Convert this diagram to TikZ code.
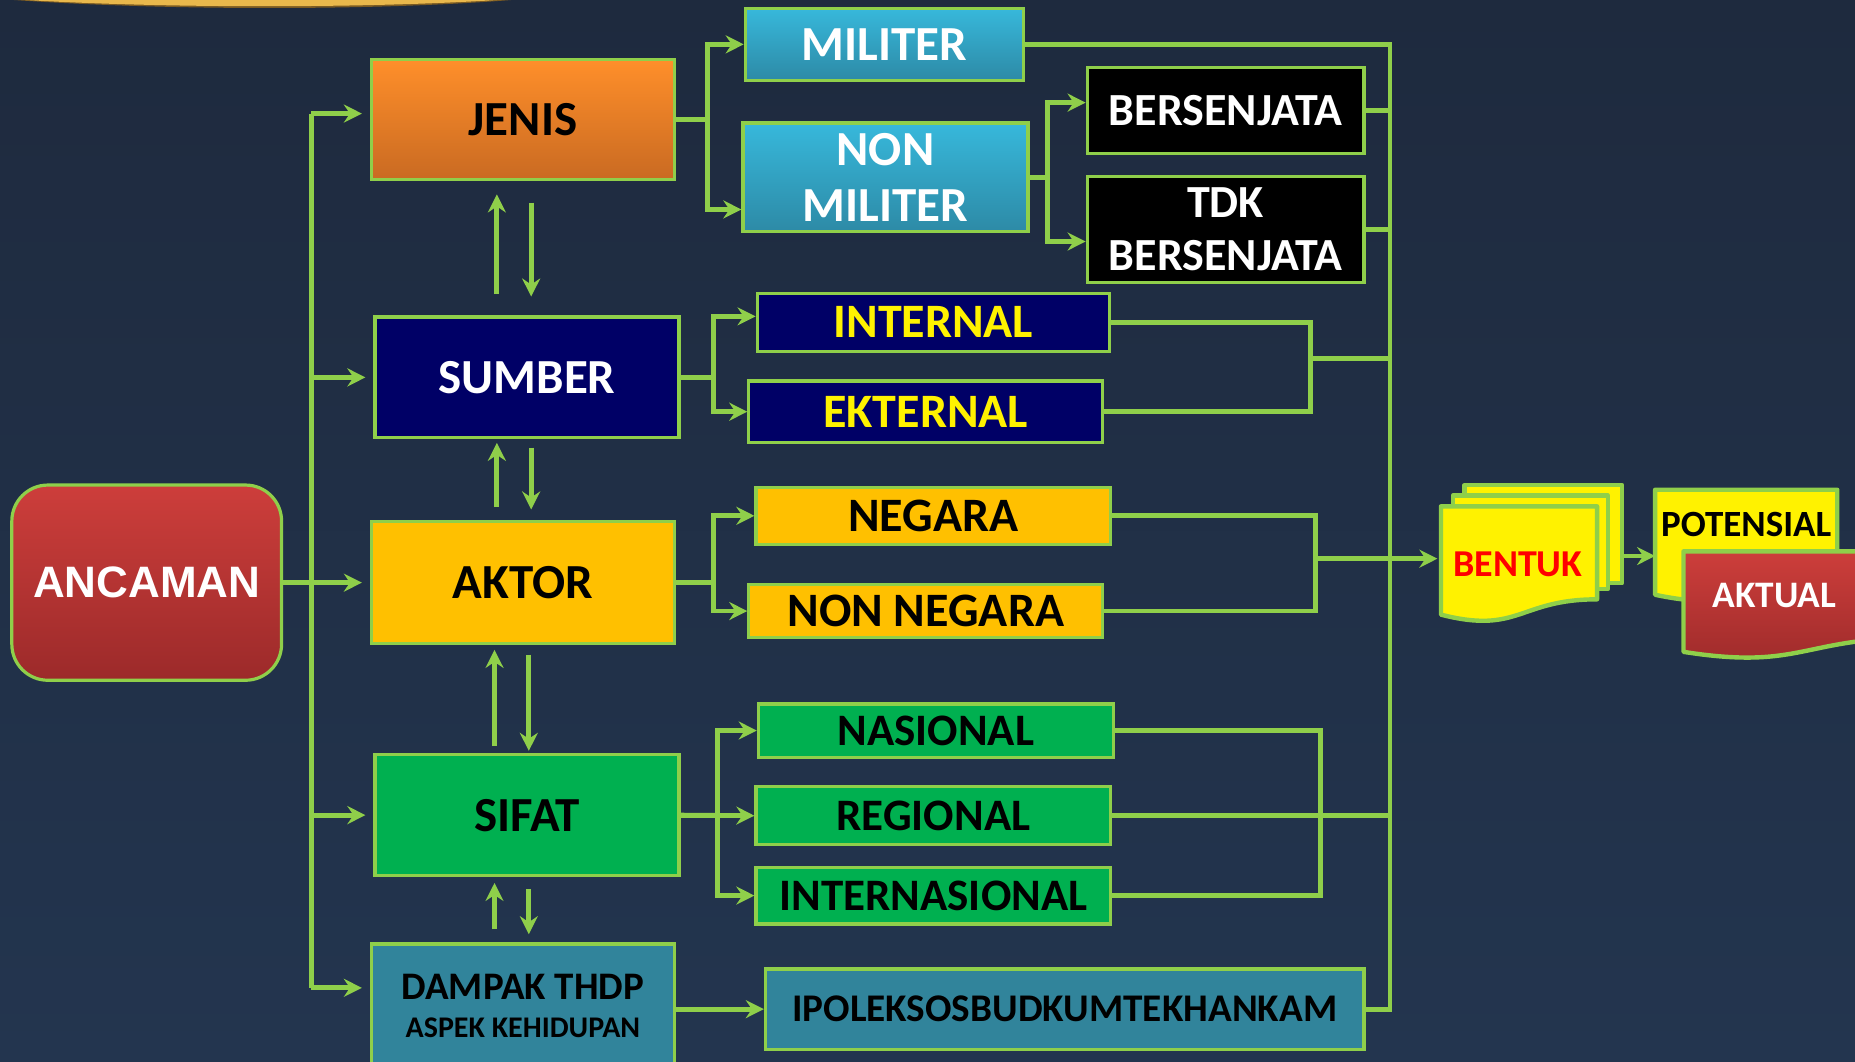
\documentclass[tikz,border=0pt]{standalone}
\usepackage{fontspec}
\setmainfont{Carlito}
\newfontfamily\arialfont{Liberation Sans}
\usetikzlibrary{arrows.meta,calc}

\definecolor{bgtop}{HTML}{1E2A3E}
\definecolor{bgbot}{HTML}{23354F}
\definecolor{lgreen}{HTML}{8FCF4A}
\definecolor{redtop}{HTML}{CD3E3B}
\definecolor{redbot}{HTML}{9C2A2A}
\definecolor{orgtop}{HTML}{FF8F2A}
\definecolor{orgbot}{HTML}{C96A22}
\definecolor{navybox}{HTML}{000066}
\definecolor{gold}{HTML}{FFC000}
\definecolor{greenbox}{HTML}{00B050}
\definecolor{tealbox}{HTML}{31849B}
\definecolor{cyantop}{HTML}{37B8DB}
\definecolor{cyanbot}{HTML}{2D8AA6}
\definecolor{arcgold}{HTML}{E9B84C}
\definecolor{arcedge}{HTML}{7A5A22}

\def\unitpx{0.5915pt}
% document shape: left x, top y, right x, height
\newcommand\docpath[4]{(#1,#2) -- (#3,#2) -- (#3,{#2+0.802*#4})
  .. controls ({(#1+#3)/2},{#2+0.802*#4}) and ({(#1+#3)/2},{#2+1.107*#4}) .. (#1,{#2+0.934*#4}) -- cycle}

\tikzset{
  line/.style={draw=lgreen, line width=2.4pt},
  arr/.style={line, -{Stealth[length=9pt,width=9pt,inset=3pt]}},
  box/.style={draw=lgreen, line width=1.6pt, inner sep=0pt, align=center},
  sz/.style 2 args={minimum width=#1*\unitpx, minimum height=#2*\unitpx},
  mainf/.style={font=\fontsize{24.5}{28}\selectfont\bfseries},
  subf/.style={font=\fontsize{24}{27}\selectfont\bfseries},
  bersf/.style={font=\fontsize{23}{26.5}\selectfont\bfseries},
  greenf/.style={font=\fontsize{22.5}{26}\selectfont\bfseries},
  docline/.style={draw=lgreen, line width=2.2pt, line join=round},
}

\begin{document}
\begin{tikzpicture}[x=\unitpx, y=-\unitpx]
\useasboundingbox (0,0) rectangle (1568,897);
\shade[top color=bgtop, bottom color=bgbot] (0,0) rectangle (1568,897);
\fill[arcedge] (12,0) .. controls (140,9) and (320,9) .. (432,0) -- cycle;
\fill[arcgold] (22,0) .. controls (140,7) and (310,7) .. (420,0) -- cycle;

% left column
\node[box, sz={228}{165}, rounded corners=18pt, top color=redtop, bottom color=redbot, text=white,
  font=\arialfont\fontsize{22}{26}\selectfont\bfseries] (ancaman) at (124,492.5) {ANCAMAN};
\node[box, sz={256}{102}, top color=orgtop, bottom color=orgbot, mainf] (jenis) at (442,101) {JENIS};
\node[box, sz={257}{102}, fill=navybox, text=white, mainf] (sumber) at (445.5,319) {SUMBER};
\node[box, sz={256}{103}, fill=gold, mainf] (aktor) at (442,492.5) {AKTOR};
\node[box, sz={257}{102}, fill=greenbox, mainf] (sifat) at (445.5,689) {SIFAT};
\node[box, sz={256}{104}, fill=tealbox, font=\fontsize{19.5}{20}\selectfont\bfseries] (dampak) at (442,850)
  {DAMPAK THDP\\[-1pt]{\fontsize{15}{16}\selectfont ASPEK KEHIDUPAN}};

% second column
\node[box, sz={235}{61}, top color=cyantop, bottom color=cyanbot, text=white, mainf] (militer) at (747.5,37.5) {MILITER};
\node[box, sz={241}{92}, top color=cyantop, bottom color=cyanbot, text=white, mainf] (nonmil) at (748.5,150) {NON\\MILITER};
\node[box, sz={234}{73}, fill=black, text=white, bersf] (bers) at (1036,93.5) {BERSENJATA};
\node[box, sz={234}{90}, fill=black, text=white, bersf] (tdk) at (1036,194) {TDK\\BERSENJATA};
\node[box, sz={298}{49}, fill=navybox, text=yellow, subf] (internal) at (789,272.5) {INTERNAL};
\node[box, sz={299}{52}, fill=navybox, text=yellow, subf] (eksternal) at (782.5,348) {EKTERNAL};
\node[box, sz={300}{48}, fill=gold, subf] (negara) at (789,436) {NEGARA};
\node[box, sz={299}{45}, fill=gold, subf] (nonneg) at (782.5,516.5) {NON NEGARA};
\node[box, sz={300}{45}, fill=greenbox, greenf] (nasional) at (791,617.5) {NASIONAL};
\node[box, sz={300}{49}, fill=greenbox, greenf] (regional) at (789,689.5) {REGIONAL};
\node[box, sz={300}{48}, fill=greenbox, greenf] (internas) at (789,757) {INTERNASIONAL};
\node[box, sz={506}{68}, fill=tealbox, font=\fontsize{19.6}{23}\selectfont\bfseries] (ipolek) at (900,853) {IPOLEKSOSBUDKUMTEKHANKAM};

% bentuk, potensial, aktual
\draw[docline, fill=yellow] (1238,410) rectangle (1371,493);
\draw[docline, fill=yellow] (1228,419) rectangle (1359,498);
\draw[docline, fill=yellow] \docpath{1218}{428}{1350}{98};
\node[text=red, font=\fontsize{19}{23}\selectfont\bfseries] (bentuk) at (1283,477) {BENTUK};
\draw[docline, fill=yellow] \docpath{1399}{414}{1553}{95};
\node[font=\fontsize{18.5}{21}\selectfont\bfseries] (potensial) at (1476,443) {POTENSIAL};
\draw[docline, top color=redtop, bottom color=redbot] \docpath{1423}{466}{1623}{91};
\node[text=white, font=\fontsize{18.7}{22}\selectfont\bfseries] (aktual) at (1500,503) {AKTUAL};

\coordinate (lb) at (263,0);
\coordinate (rb) at (1175,0);
\coordinate (m1) at (1108,0);
\coordinate (m2) at (1112,0);
\coordinate (m3) at (1116,0);
\coordinate (bentukw) at (1215,472);
\coordinate (bentuke) at (1371,470);
\coordinate (potw) at (1399,470);

% left bus
\draw[line] ($(lb |- jenis.west)+(0,-5)$) -- ($(lb |- dampak.west)+(0,-15)$);
\draw[arr, shorten >=4pt] ($(lb |- jenis.west)+(0,-5)$) -- ($(jenis.west)+(0,-5)$);
\draw[arr, shorten >=4pt] (lb |- sumber.west) -- (sumber.west);
\draw[arr, shorten >=4pt] (ancaman.east) -- (aktor.west);
\draw[arr, shorten >=4pt] (lb |- sifat.west) -- (sifat.west);
\draw[arr, shorten >=4pt] ($(lb |- dampak.west)+(0,-15)$) -- ($(dampak.west)+(0,-15)$);

% up and down between main boxes (x, gaps: up tail, up tip, down tail, down tip)
\foreach \a/\b/\ux/\ut/\up/\dt/\dp in {jenis/sumber/420/18/11/18/16, sumber/aktor/420/11/3/7/9,
    aktor/sifat/418/6/4/8/2, sifat/dampak/418/11/5/10/7}{
  \path (\ux,0) coordinate (ua) (\ux+29,0) coordinate (da);
  \draw[arr] ($(ua |- \b.north)+(0,-\ut)$) -- ($(ua |- \a.south)+(0,\up)$);
  \draw[arr] ($(da |- \a.south)+(0,\dt)$) -- ($(da |- \b.north)+(0,-\dp)$);
}

% branches
\draw[arr] (jenis.east) -- ++(27,0) |- (militer.west);
\draw[arr] (jenis.east) -- ++(27,0) |- ([yshift=-16pt]nonmil.west);
\draw[arr] (nonmil.east) -- ++(15,0) |- ([yshift=4pt]bers.west);
\draw[arr] (nonmil.east) -- ++(15,0) |- ([yshift=-6pt]tdk.west);
\draw[arr] (sumber.east) -- ++(28,0) |- ([yshift=3pt]internal.west);
\draw[arr] (sumber.east) -- ++(28,0) |- (eksternal.west);
\draw[arr] (aktor.east) -- ++(32,0) |- (negara.west);
\draw[arr] (aktor.east) -- ++(32,0) |- (nonneg.west);
\draw[arr] (sifat.east) -- ++(31,0) |- (nasional.west);
\draw[arr] (sifat.east) -- (regional.west);
\draw[arr] (sifat.east) -- ++(31,0) |- (internas.west);
\draw[arr] (dampak.east |- ipolek.west) -- (ipolek.west);

% right side
\draw[line] (militer.east) -- (militer.east -| rb) -- (rb |- ipolek.east) -- (ipolek.east);
\foreach \n in {bers,tdk,regional}
  \draw[line] (\n.east) -- (\n.east -| rb);
\draw[line] (internal.east) -| (m1 |- eksternal.east) -- (eksternal.east);
\path ($(m1 |- internal.east)!.4!(m1 |- eksternal.east)$) coordinate (j1);
\draw[line] (j1) -- (j1 -| rb);
\draw[line] (negara.east) -| (m2 |- nonneg.east) -- (nonneg.east);
\path ($(m2 |- negara.east)!.45!(m2 |- nonneg.east)$) coordinate (j2);
\draw[arr] (j2) -- (j2 -| bentukw);
\draw[line] (nasional.east) -| (m3 |- internas.east) -- (internas.east);
\draw[arr] (bentuke) -- (potw);
\end{tikzpicture}
\end{document}
